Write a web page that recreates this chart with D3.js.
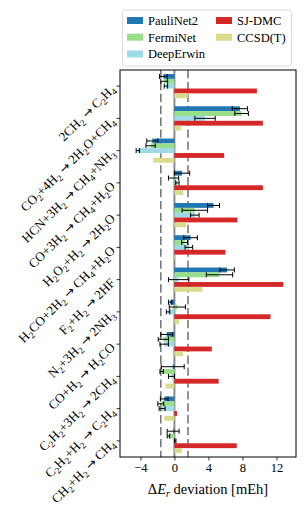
<!DOCTYPE html>
<html>
<head>
<meta charset="utf-8">
<script src="https://cdn.jsdelivr.net/npm/d3@7"></script>
<style>
  body { margin: 0; background: #fff; }
  text { font-family: "Liberation Serif", "DejaVu Serif", serif; fill: #000; }
</style>
</head>
<body>
<div id="vis"></div>
<script>
// frame size
const FRAME_WIDTH = 306;
const FRAME_HEIGHT = 516;

// plot area edges in the frame
const MARGINS = {left: 120, right: 10, top: 70, bottom: 59};

// reactions, top to bottom
const reactions = [
  "2CH2 → C2H4",
  "CO2+4H2 → 2H2O+CH4",
  "HCN+3H2 → CH4+NH3",
  "CO+3H2 → CH4+H2O",
  "H2O2+H2 → 2H2O",
  "H2CO+2H2 → CH4+H2O",
  "F2+H2 → 2HF",
  "N2+3H2 → 2NH3",
  "CO+H2 → H2CO",
  "C2H2+3H2 → 2CH4",
  "C2H2+H2 → C2H4",
  "CH2+H2 → CH4"
];

// methods and their colours
const methods = ["PauliNet2", "FermiNet", "DeepErwin", "SJ-DMC", "CCSD(T)"];
const colors = ["#1f77b4", "#98df8a", "#9edae5", "#d62728", "#dbdb8d"];

// deviations in mEh, one value per reaction
const pauliNet2 = [-1.3, 7.7, -2.6, 0.9, 4.6, 1.9, 6.2, -0.5, -0.9, -0.2, -1.2, -0.15];
const pauliNet2Err = [0.45, 0.9, 0.65, 0.9, 0.7, 0.8, 0.85, 0.2, 0.7, 1.35, 0.45, 0.7];
const fermiNet = [-1.2, 7.9, -2.8, -0.1, 2.4, 1.2, 5.3, 0.35, -1.3, -1.5, -1.6, -0.7];
const fermiNetErr = [0.4, 0.8, 0.55, 0.6, 1.5, 0.35, 1.55, 0.95, 0.6, 0.2, 0.35, 0.15];
const deepErwin = [-1.0, 3.6, -4.3, 0.35, 2.4, 1.7, 0.5, -0.75, -1.2, -0.35, -1.45, 0.1];
const deepErwinErr = [0.2, 1.2, 0.2, 0.2, 0.5, 0.45, 1.2, 0.2, 0.5, 0.35, 0.35, 0.08];
const sjDmc = [9.7, 10.4, 5.85, 10.4, 7.4, 6.0, 12.8, 11.3, 4.4, 5.2, 0.3, 7.33];
const ccsdt = [1.6, 0.75, -2.5, 1.05, 1.35, 0.1, 3.3, 0.55, 1.0, -1.05, -1.2, 0.86];

const values = [pauliNet2, fermiNet, deepErwin, sjDmc, ccsdt];
const errors = [pauliNet2Err, fermiNetErr, deepErwinErr, null, null];

// x axis ticks and the chemical accuracy band
const xTicks = [-4, 0, 4, 8, 12];
const chemAcc = 1.6;

const VIS_WIDTH = FRAME_WIDTH - MARGINS.left - MARGINS.right;
const VIS_HEIGHT = FRAME_HEIGHT - MARGINS.top - MARGINS.bottom;

const svg = d3.select("#vis")
  .append("svg")
  .attr("width", FRAME_WIDTH)
  .attr("height", FRAME_HEIGHT);

const X_SCALE = d3.scaleLinear()
  .domain([-6.4, 14.3])
  .range([MARGINS.left, MARGINS.left + VIS_WIDTH]);

const Y_SCALE = d3.scaleBand()
  .domain(reactions)
  .range([MARGINS.top, MARGINS.top + VIS_HEIGHT])
  .padding(0);

// bars take 75% of each group
const groupH = Y_SCALE.bandwidth() * 0.75;
const INNER = d3.scaleBand()
  .domain(methods)
  .range([(Y_SCALE.bandwidth() - groupH) / 2, (Y_SCALE.bandwidth() + groupH) / 2]);

// reference lines behind bars
svg.append("line")
  .attr("x1", X_SCALE(0)).attr("x2", X_SCALE(0))
  .attr("y1", MARGINS.top).attr("y2", MARGINS.top + VIS_HEIGHT)
  .attr("stroke", "#8c8c8c").attr("stroke-width", 2);

[-chemAcc, chemAcc].forEach((v) => {
  svg.append("line")
    .attr("x1", X_SCALE(v)).attr("x2", X_SCALE(v))
    .attr("y1", MARGINS.top).attr("y2", MARGINS.top + VIS_HEIGHT)
    .attr("stroke", "#7a7a7a").attr("stroke-width", 1.6)
    .attr("stroke-dasharray", "8.3,3.6");
});

// bars and error bars
methods.forEach((m, mi) => {
  const rows = reactions.map((r, i) => ({r: r, v: values[mi][i], e: errors[mi] ? errors[mi][i] : null}));
  const g = svg.append("g");

  g.selectAll("rect")
    .data(rows)
    .enter()
    .append("rect")
      .attr("x", (d) => X_SCALE(Math.min(0, d.v)))
      .attr("y", (d) => Y_SCALE(d.r) + INNER(m))
      .attr("width", (d) => Math.abs(X_SCALE(d.v) - X_SCALE(0)))
      .attr("height", INNER.bandwidth())
      .attr("fill", colors[mi]);

  if (errors[mi]) {
    const eb = g.selectAll(".err")
      .data(rows)
      .enter()
      .append("g")
        .attr("class", "err")
        .attr("transform", (d) => "translate(0," + (Y_SCALE(d.r) + INNER(m) + INNER.bandwidth() / 2) + ")");
    eb.append("line")
      .attr("x1", (d) => X_SCALE(d.v - d.e)).attr("x2", (d) => X_SCALE(d.v + d.e))
      .attr("stroke", "#000").attr("stroke-width", 1);
    eb.append("line")
      .attr("x1", (d) => X_SCALE(d.v - d.e)).attr("x2", (d) => X_SCALE(d.v - d.e))
      .attr("y1", -2.5).attr("y2", 2.5)
      .attr("stroke", "#000").attr("stroke-width", 1);
    eb.append("line")
      .attr("x1", (d) => X_SCALE(d.v + d.e)).attr("x2", (d) => X_SCALE(d.v + d.e))
      .attr("y1", -2.5).attr("y2", 2.5)
      .attr("stroke", "#000").attr("stroke-width", 1);
  }
});

// x axis
const xAxis = svg.append("g")
  .attr("transform", "translate(0," + (MARGINS.top + VIS_HEIGHT) + ")")
  .call(d3.axisBottom(X_SCALE).tickValues(xTicks).tickSize(3.5).tickPadding(3)
        .tickFormat((d) => (d < 0 ? "\u2212" : "") + Math.abs(d)));
xAxis.select(".domain").remove();
xAxis.selectAll("text").attr("font-size", 12.5).attr("font-family", "Liberation Serif");
xAxis.selectAll("line").attr("stroke-width", 0.8);

// y axis: ticks only, labels drawn rotated below
const yAxis = svg.append("g")
  .attr("transform", "translate(" + MARGINS.left + ",0)")
  .call(d3.axisLeft(Y_SCALE).tickSize(3.5).tickFormat(""));
yAxis.select(".domain").remove();
yAxis.selectAll("line").attr("stroke-width", 0.8);

// writes a formula with subscript digits after letters
function addFormula(textSel, label, size) {
  const parts = label.match(/[A-Za-z)][0-9]+|./g);
  let buf = "";
  const flush = () => { if (buf) textSel.append("tspan").text(buf); buf = ""; };
  parts.forEach((p) => {
    if (p.length > 1 && /[0-9]/.test(p[1])) {
      buf += p[0];
      flush();
      textSel.append("tspan").attr("dy", 3).attr("font-size", size * 0.72).text(p.slice(1));
      textSel.append("tspan").attr("dy", -3).text("\u200b");
    } else if (p === "→") {
      flush();
      textSel.append("tspan").attr("font-family", "DejaVu Sans").attr("font-size", size * 0.95).text("→");
    } else {
      buf += p;
    }
  });
  flush();
}

reactions.forEach((r) => {
  const t = svg.append("text")
    .attr("transform", "translate(" + (MARGINS.left - 7) + "," +
          (Y_SCALE(r) + Y_SCALE.bandwidth() / 2 + 1) + ") rotate(-45)")
    .attr("text-anchor", "end")
    .attr("dy", "0.32em")
    .attr("font-size", 13)
    .attr("xml:space", "preserve");
  addFormula(t, r, 13);
});

// frame
svg.append("rect")
  .attr("x", MARGINS.left).attr("y", MARGINS.top)
  .attr("width", VIS_WIDTH).attr("height", VIS_HEIGHT)
  .attr("fill", "none").attr("stroke", "#000").attr("stroke-width", 1);

// x label
const xl = svg.append("text")
  .attr("x", MARGINS.left + VIS_WIDTH / 2)
  .attr("y", 494)
  .attr("text-anchor", "middle")
  .attr("font-size", 14.5);
xl.append("tspan").text("\u0394");
xl.append("tspan").attr("font-style", "italic").text("E");
xl.append("tspan").attr("font-style", "italic").attr("font-size", 10).attr("dy", 3).text("r");
xl.append("tspan").attr("dy", -3).text(" deviation [mEh]");

// legend
const legend = svg.append("g");
legend.append("rect")
  .attr("x", 122.5).attr("y", 10)
  .attr("width", 169).attr("height", 56)
  .attr("rx", 2.5)
  .attr("fill", "#fff").attr("stroke", "#d0d0d0").attr("stroke-width", 0.8);

const legendPos = [[127, 20.5], [127, 37.2], [127, 54], [216, 20.5], [216, 37.2]];
methods.forEach((m, i) => {
  const p = legendPos[i];
  legend.append("rect")
    .attr("x", p[0]).attr("y", p[1] - 3.5)
    .attr("width", 16).attr("height", 7)
    .attr("fill", colors[i]);
  legend.append("text")
    .attr("x", p[0] + 21).attr("y", p[1])
    .attr("dy", "0.35em")
    .attr("font-size", 12.5)
    .text(m);
});
</script>
</body>
</html>
